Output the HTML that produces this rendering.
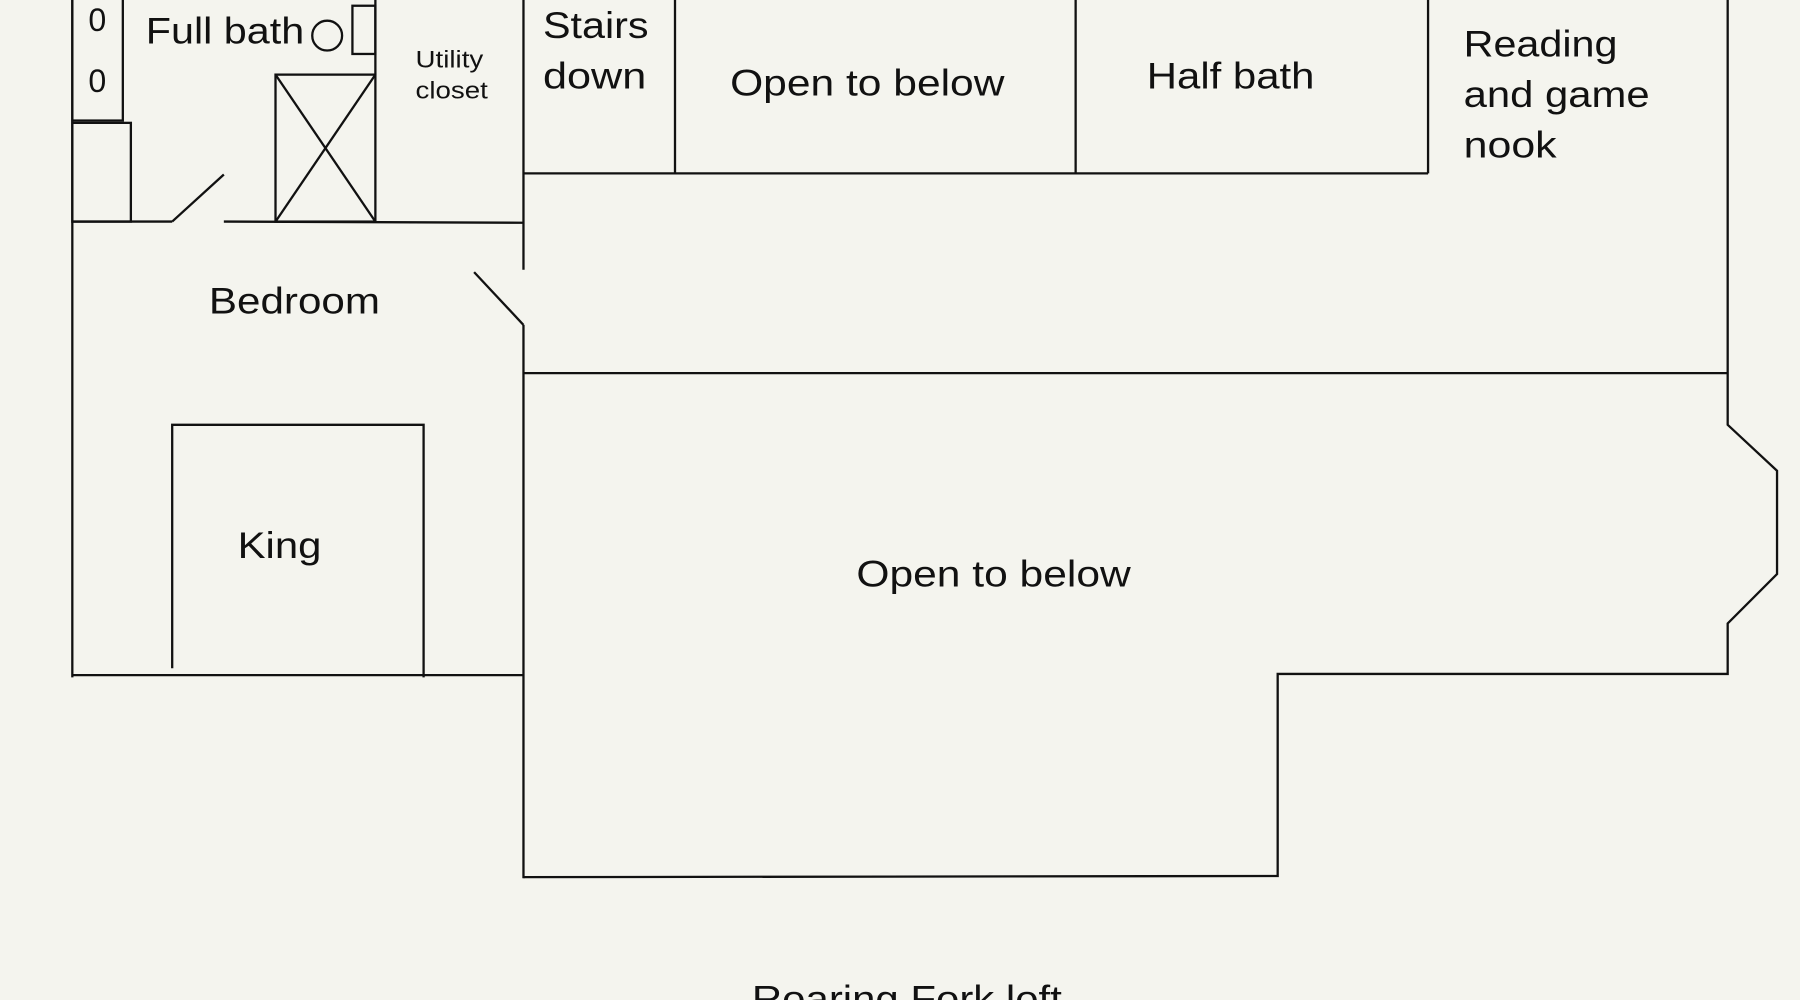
<!DOCTYPE html>
<html><head><meta charset="utf-8"><style>
html,body{margin:0;padding:0;background:#f4f4ee;}
svg{display:block;}
text{font-family:"Liberation Sans",sans-serif;fill:#111;}
</style></head><body>
<svg width="1800" height="1000" viewBox="0 0 1568 871" preserveAspectRatio="none" xmlns="http://www.w3.org/2000/svg">
<rect width="1568" height="871" fill="#f4f4ee"/>
<g stroke="#111" stroke-width="2" fill="none">
<rect x="63" y="-2" width="44" height="107"/>
<rect x="63" y="107" width="51" height="86"/>
<line x1="63" y1="0" x2="63" y2="590"/>
<line x1="63" y1="193" x2="150" y2="193"/>
<line x1="150" y1="193" x2="195" y2="152"/>
<line x1="195" y1="193" x2="456" y2="194"/>
<rect x="240" y="65" width="87" height="128"/>
<line x1="240" y1="65" x2="327" y2="193"/>
<line x1="327" y1="65" x2="240" y2="193"/>
<circle cx="285" cy="31" r="13"/>
<rect x="307" y="5" width="20" height="42"/>
<line x1="327" y1="0" x2="327" y2="65"/>
<line x1="456" y1="0" x2="456" y2="235"/>
<line x1="413" y1="237" x2="456" y2="283"/>
<line x1="456" y1="283" x2="456" y2="765"/>
<line x1="456" y1="151" x2="1244" y2="151"/>
<line x1="588" y1="0" x2="588" y2="151"/>
<line x1="937" y1="0" x2="937" y2="151"/>
<line x1="1244" y1="0" x2="1244" y2="151"/>
<polyline points="1505,0 1505,370 1548,410 1548,500 1505,543 1505,587 1113,587 1113,763 456,764"/>
<line x1="456" y1="325" x2="1505" y2="325"/>
<line x1="63" y1="588" x2="456" y2="588"/>
<polyline points="150,582 150,370 369,370 369,590"/>
</g>
<g font-size="32" lengthAdjust="spacingAndGlyphs">
<text x="127" y="38" textLength="138" lengthAdjust="spacingAndGlyphs">Full bath</text>
<text x="182" y="273" textLength="149" lengthAdjust="spacingAndGlyphs">Bedroom</text>
<text x="207" y="486" textLength="73" lengthAdjust="spacingAndGlyphs">King</text>
<text x="473" y="33" textLength="92" lengthAdjust="spacingAndGlyphs">Stairs</text>
<text x="473" y="77" textLength="90" lengthAdjust="spacingAndGlyphs">down</text>
<text x="636" y="83" textLength="239" lengthAdjust="spacingAndGlyphs">Open to below</text>
<text x="999" y="77" textLength="146" lengthAdjust="spacingAndGlyphs">Half bath</text>
<text x="1275" y="49" textLength="134" lengthAdjust="spacingAndGlyphs">Reading</text>
<text x="1275" y="93" textLength="162" lengthAdjust="spacingAndGlyphs">and game</text>
<text x="1275" y="137" textLength="81" lengthAdjust="spacingAndGlyphs">nook</text>
<text x="746" y="511" textLength="239" lengthAdjust="spacingAndGlyphs">Open to below</text>
<text x="655" y="881" textLength="270" lengthAdjust="spacingAndGlyphs">Roaring Fork loft</text>
<text x="77" y="27" font-size="28">0</text>
<text x="77" y="80" font-size="28">0</text>
</g>
<g font-size="21">
<text x="362" y="59" textLength="59" lengthAdjust="spacingAndGlyphs">Utility</text>
<text x="362" y="86" textLength="63" lengthAdjust="spacingAndGlyphs">closet</text>
</g>
</svg>
</body></html>
